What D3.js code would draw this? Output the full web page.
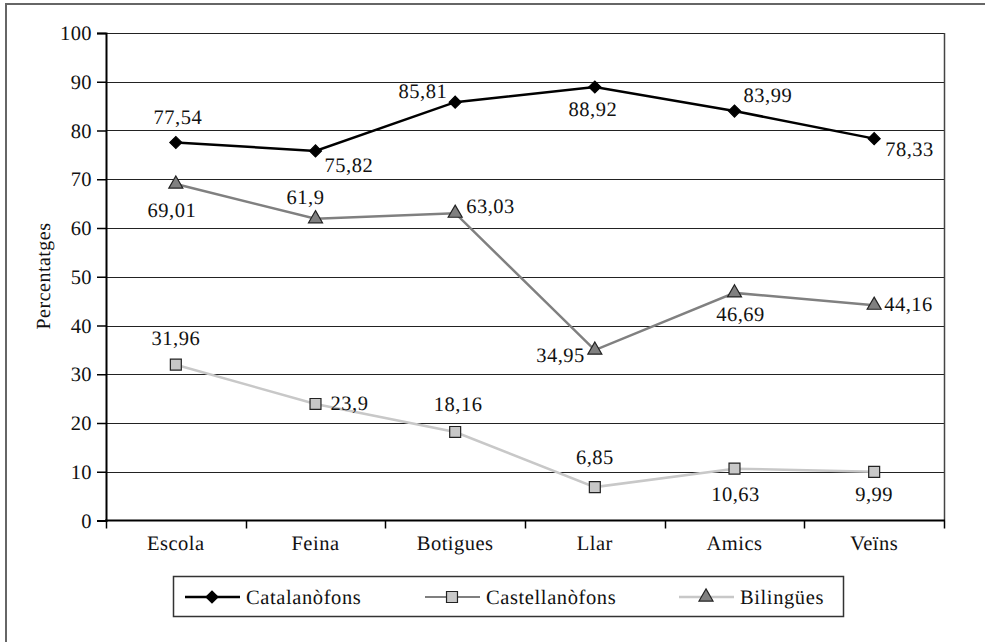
<!DOCTYPE html>
<html>
<head>
<meta charset="utf-8">
<script src="https://cdn.jsdelivr.net/npm/d3@7"></script>
<style>
  body { margin: 0; background: #fff; }
  svg text { font-family: "Liberation Serif", serif; fill: #111; text-rendering: geometricPrecision; }
</style>
</head>
<body>
<svg id="chart" width="985" height="642"></svg>
<script>
// chart data
var categories = ['Escola', 'Feina', 'Botigues', 'Llar', 'Amics', 'Veïns'];
var catalanofons = [77.54, 75.82, 85.81, 88.92, 83.99, 78.33];
var castellanofons = [31.96, 23.9, 18.16, 6.85, 10.63, 9.99];
var bilingues = [69.01, 61.9, 63.03, 34.95, 46.69, 44.16];
var yTicks = [0, 10, 20, 30, 40, 50, 60, 70, 80, 90, 100];

// where each value label sits relative to its point [dx, dy, anchor]
var catPlace = [[2, -18, 'middle'], [9, 21, 'start'], [-8, -4, 'end'], [-2, 29, 'middle'], [9, -9, 'start'], [11, 17, 'start']];
var casPlace = [[0, -20, 'middle'], [15, 6, 'start'], [3, -21, 'middle'], [0, -23, 'middle'], [1, 32, 'middle'], [0, 29, 'middle']];
var bilPlace = [[-4, 33, 'middle'], [-10, -15, 'middle'], [11, 0, 'start'], [-10, 12, 'end'], [6, 28, 'middle'], [10, 6, 'start']];

var svg = d3.select('#chart');
var fontSize = '20.5px';

var xScale = d3.scaleBand().domain(categories).range([106, 944]);
var yScale = d3.scaleLinear().domain([0, 100]).range([520.5, 33]);

// outer frame
svg.append('rect')
    .attr('x', 6).attr('y', 4)
    .attr('width', 1000).attr('height', 700)
    .attr('fill', 'none')
    .attr('stroke', '#666')
    .attr('stroke-width', 2);

// gridlines
svg.append('g').selectAll('line')
    .data(yTicks.filter(function(t) { return t > 0; }))
    .enter().append('line')
    .attr('x1', 106).attr('x2', 944)
    .attr('y1', function(d) { return Math.round(yScale(d)) + 0.5; })
    .attr('y2', function(d) { return Math.round(yScale(d)) + 0.5; })
    .attr('stroke', '#222')
    .attr('stroke-width', 1.2);

// right border of plot
svg.append('line')
    .attr('x1', 944.5).attr('x2', 944.5)
    .attr('y1', yScale(100)).attr('y2', yScale(0))
    .attr('stroke', '#444').attr('stroke-width', 1.5);

// y axis
var yAxis = d3.axisLeft(yScale).tickValues(yTicks).tickSize(9).tickPadding(5);
var yG = svg.append('g')
    .attr('transform', 'translate(106,0)')
    .call(yAxis)
    .attr('font-family', null)
    .attr('font-size', null);
yG.select('.domain').attr('stroke', '#000').attr('stroke-width', 2);
yG.selectAll('.tick line').attr('stroke', '#000').attr('stroke-width', 1.5);
yG.selectAll('text')
    .style('font-size', fontSize)
    .style('letter-spacing', '0.4px')
    .attr('fill', '#111');

// x axis line and boundary ticks
svg.append('line')
    .attr('x1', 105).attr('x2', 945)
    .attr('y1', yScale(0)).attr('y2', yScale(0))
    .attr('stroke', '#000').attr('stroke-width', 2);

var bounds = categories.map(function(c) { return xScale(c); }).concat([xScale.range()[1]]);
svg.append('g').selectAll('line')
    .data(bounds)
    .enter().append('line')
    .attr('x1', function(d) { return Math.round(d) + 0.5; })
    .attr('x2', function(d) { return Math.round(d) + 0.5; })
    .attr('y1', yScale(0)).attr('y2', yScale(0) + 8)
    .attr('stroke', '#000').attr('stroke-width', 1.5);

svg.append('g').selectAll('text')
    .data(categories)
    .enter().append('text')
    .attr('x', function(d) { return xScale(d) + xScale.bandwidth() / 2; })
    .attr('y', 550)
    .attr('text-anchor', 'middle')
    .style('font-size', fontSize)
    .style('letter-spacing', '0.5px')
    .text(function(d) { return d; });

// y title
svg.append('text')
    .attr('transform', 'translate(50,276) rotate(-90)')
    .attr('text-anchor', 'middle')
    .style('font-size', '20px')
    .style('letter-spacing', '0.5px')
    .text('Percentatges');

function cx(i) { return xScale(categories[i]) + xScale.bandwidth() / 2; }

var diamond = d3.symbol().type(d3.symbolSquare).size(72);
var square = d3.symbol().type(d3.symbolSquare).size(120);
var triangle = d3.symbol().type(d3.symbolTriangle).size(85);

var series = [
    { values: castellanofons, line: '#c8c8c8', width: 2.5, sym: square, rot: 0, fill: '#c8c8c8', stroke: '#222', place: casPlace },
    { values: bilingues, line: '#808080', width: 2.5, sym: triangle, rot: 0, fill: '#808080', stroke: '#222', place: bilPlace },
    { values: catalanofons, line: '#000', width: 2.5, sym: diamond, rot: 45, fill: '#000', stroke: '#000', place: catPlace }
];

var lineGen = d3.line()
    .x(function(d, i) { return cx(i); })
    .y(function(d) { return yScale(d); });

series.forEach(function(s) {
    svg.append('path')
        .datum(s.values)
        .attr('d', lineGen)
        .attr('fill', 'none')
        .attr('stroke', s.line)
        .attr('stroke-width', s.width);

    svg.append('g').selectAll('path')
        .data(s.values)
        .enter().append('path')
        .attr('d', s.sym)
        .attr('transform', function(d, i) { return 'translate(' + cx(i) + ',' + yScale(d) + ') rotate(' + s.rot + ')'; })
        .attr('fill', s.fill)
        .attr('stroke', s.stroke)
        .attr('stroke-width', 1.2);
});

series.forEach(function(s) {
    svg.append('g').selectAll('text')
        .data(s.values)
        .enter().append('text')
        .attr('x', function(d, i) { return cx(i) + s.place[i][0]; })
        .attr('y', function(d, i) { return yScale(d) + s.place[i][1]; })
        .attr('text-anchor', function(d, i) { return s.place[i][2]; })
        .style('font-size', fontSize)
        .style('letter-spacing', '0.5px')
        .text(function(d) { return String(d).replace('.', ','); });
});

// legend
var legend = svg.append('g');
legend.append('rect')
    .attr('x', 173.5).attr('y', 576.5)
    .attr('width', 670).attr('height', 40)
    .attr('fill', '#fff')
    .attr('stroke', '#333')
    .attr('stroke-width', 1.5);

var legendItems = [
    { name: 'Catalanòfons', x: 185, line: '#000', lw: 2.5, sym: diamond, rot: 45, fill: '#000', stroke: '#000' },
    { name: 'Castellanòfons', x: 425, line: '#000', lw: 1.2, sym: square, rot: 0, fill: '#c8c8c8', stroke: '#222' },
    { name: 'Bilingües', x: 679, line: '#c8c8c8', lw: 2.5, sym: triangle, rot: 0, fill: '#808080', stroke: '#222' }
];
legendItems.forEach(function(it) {
    legend.append('line')
        .attr('x1', it.x).attr('x2', it.x + 55)
        .attr('y1', 597).attr('y2', 597)
        .attr('stroke', it.line).attr('stroke-width', it.lw);
    legend.append('path')
        .attr('d', it.sym)
        .attr('transform', 'translate(' + (it.x + 27) + ',597) rotate(' + it.rot + ')')
        .attr('fill', it.fill)
        .attr('stroke', it.stroke)
        .attr('stroke-width', 1.2);
    legend.append('text')
        .attr('x', it.x + 61)
        .attr('y', 604)
        .style('font-size', fontSize)
        .style('letter-spacing', '0.6px')
        .text(it.name);
});
</script>
</body>
</html>
